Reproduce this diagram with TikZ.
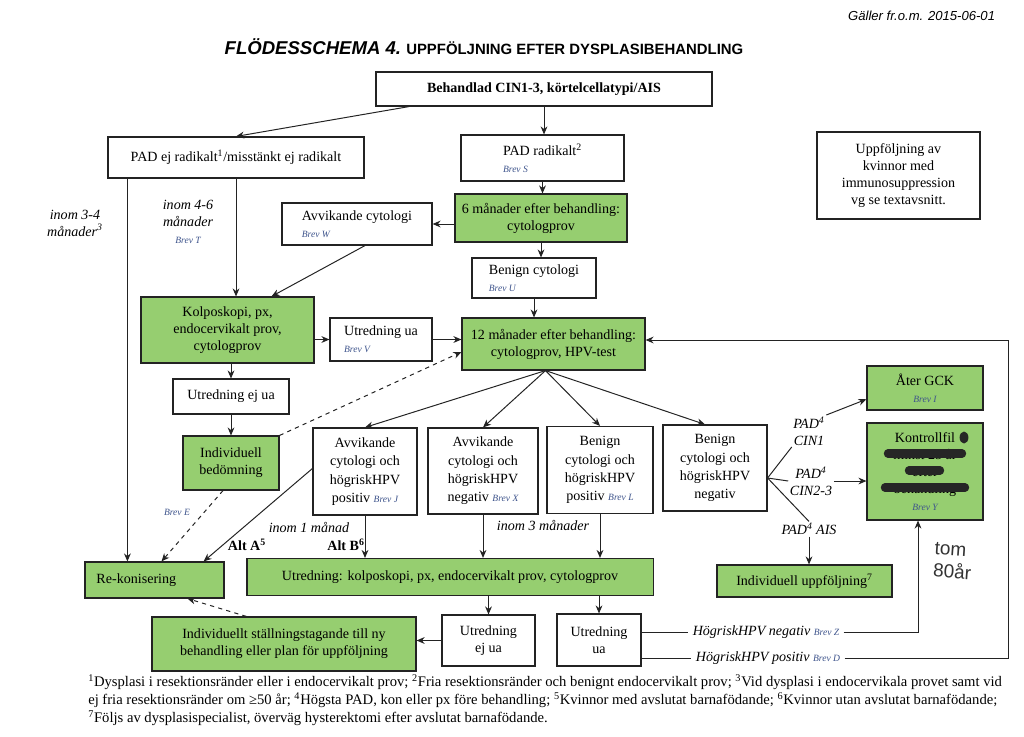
\documentclass[tikz,border=0pt]{standalone}
\usepackage{fontspec}
\setmainfont{Liberation Serif}
\newfontfamily\headfont{Liberation Sans}
\usepackage{xcolor}
\usetikzlibrary{arrows.meta,calc,positioning}
\definecolor{boxgreen}{RGB}{150,206,112}
\definecolor{brevblue}{RGB}{62,84,140}
\definecolor{edge}{RGB}{35,35,35}
\newcommand{\brev}[1]{{\fontsize{6.8}{8}\selectfont\itshape\color{brevblue}#1}}

\begin{document}
\begin{tikzpicture}[
  x=0.025cm, y=-0.025cm,
  font=\fontsize{10}{12}\selectfont,
  wbox/.style={draw=edge, line width=0.8pt, fill=white, align=center, inner sep=2pt},
  gbox/.style={wbox, fill=boxgreen},
  lbl/.style={font=\fontsize{10}{12}\selectfont\itshape, align=center, inner sep=1pt},
  arr/.style={-{Stealth[length=2mm,width=1.7mm]}, line width=0.7pt, draw=edge},
  darr/.style={arr, dashed},
  scribble/.style={line width=6pt, line cap=round, draw=black!85}
]
\useasboundingbox[fill=white] (0,0) rectangle (1024,736);

% title
\node (title) at (484,47) {\headfont\bfseries{\fontsize{13.2}{15}\selectfont\itshape FLÖDESSCHEMA 4.} {\fontsize{10.6}{12}\selectfont UPPFÖLJNING EFTER DYSPLASIBEHANDLING}};
\node[anchor=east] (date) at (1000,16) {\headfont\itshape\fontsize{9.3}{11}\selectfont Gäller fr.o.m. 2015-06-01};

% boxes
\node[wbox, minimum width=8.4cm, minimum height=0.85cm, font=\fontsize{10}{12}\selectfont\bfseries] (beh) at (544,89) {Behandlad CIN1-3, körtelcellatypi/AIS};
\node[wbox, minimum width=6.4cm, minimum height=1.025cm] (padej) at (236,157.5) {PAD ej radikalt\textsuperscript{1}/misstänkt ej radikalt};
\node[wbox, minimum width=4.075cm, minimum height=1.15cm, align=left] (padrad) at (542.5,158) {PAD radikalt\textsuperscript{2}\\\brev{Brev S}};
\node[wbox, minimum width=4.075cm, minimum height=2.175cm] (uppf) at (898.5,175.5) {Uppföljning av\\kvinnor med\\immunosuppression\\vg se textavsnitt.};
\node[gbox, minimum width=4.3cm, minimum height=1.2cm] (sexm) at (541,218) {6 månader efter behandling:\\cytologprov};
\node[wbox, minimum width=3.75cm, minimum height=1.05cm, align=left] (avvik) at (357,224) {Avvikande cytologi\\\brev{Brev W}};
\node[wbox, minimum width=3.1cm, minimum height=1cm, align=left] (benign) at (534,278) {Benign cytologi\\\brev{Brev U}};
\node[gbox, minimum width=4.325cm, minimum height=1.65cm] (kolpo) at (227.5,330) {Kolposkopi, px,\\endocervikalt prov,\\cytologprov};
\node[wbox, minimum width=2.55cm, minimum height=1.075cm, align=left] (utrua) at (381,339.5) {Utredning ua\\\brev{Brev V}};
\node[gbox, minimum width=4.575cm, minimum height=1.3cm] (tolv) at (553.5,344) {12 månader efter behandling:\\cytologprov, HPV-test};
\node[wbox, minimum width=2.9cm, minimum height=0.875cm] (utrej) at (231,396.5) {Utredning ej ua};
\node[gbox, minimum width=2.4cm, minimum height=1.35cm] (indbed) at (231,463) {Individuell\\bedömning};
\node[gbox, minimum width=3.475cm, minimum height=0.9cm, text width=2.9cm, inner xsep=0.25cm, align=left] (rekon) at (154.5,580) {Re-konisering};

\node[wbox, minimum width=2.6cm, minimum height=2.175cm, font=\fontsize{10}{13}\selectfont] (bJ) at (365,471.5) {Avvikande\\cytologi och\\högriskHPV\\positiv \brev{Brev J}};
\node[wbox, minimum width=2.75cm, minimum height=2.15cm, font=\fontsize{10}{13}\selectfont] (bX) at (483,471) {Avvikande\\cytologi och\\högriskHPV\\negativ \brev{Brev X}};
\node[wbox, minimum width=2.65cm, minimum height=2.175cm, font=\fontsize{10}{13}\selectfont] (bL) at (600,470) {Benign\\cytologi och\\högriskHPV\\positiv \brev{Brev L}};
\node[wbox, minimum width=2.6cm, minimum height=2.15cm, font=\fontsize{10}{13}\selectfont] (bN) at (715,468) {Benign\\cytologi och\\högriskHPV\\negativ};

\node[gbox, minimum width=10.15cm, minimum height=0.925cm] (utrbig) at (450,577) {Utredning: kolposkopi, px, endocervikalt prov, cytologprov};
\node[wbox, minimum width=2.325cm, minimum height=1.275cm] (utrej2) at (488.5,640.5) {Utredning\\ej ua};
\node[wbox, minimum width=2.1cm, minimum height=1.3cm] (utrua2) at (599,640) {Utredning\\ua};
\node[gbox, minimum width=6.6cm, minimum height=1.35cm] (indst) at (284,644) {Individuellt ställningstagande till ny\\behandling eller plan för uppföljning};

\node[gbox, minimum width=2.9cm, minimum height=1.1cm] (gck) at (925,388) {Åter GCK\\\brev{Brev I}};
\node[gbox, minimum width=2.9cm, minimum height=2.425cm] (kontr) at (925,471.5) {Kontrollfil\\minst 25 år\\efter\\behandling\\\brev{Brev Y}};
\node[gbox, minimum width=4.375cm, minimum height=0.8cm] (induppf) at (804.5,581) {Individuell uppföljning\textsuperscript{7}};

% scribbled-out lines
\draw[scribble] ($(kontr.center)+(-37,-18)$) -- ++(74,0);
\draw[scribble] ($(kontr.center)+(-16,-1)$) -- ++(31,0);
\draw[scribble] ($(kontr.center)+(-40,16)$) -- ++(80,0);
\fill[black!85] ($(kontr.center)+(39,-34)$) ellipse [x radius=1.1mm, y radius=1.5mm];

% labels
\node[lbl] (l34) at (75,223) {inom 3-4\\månader\textsuperscript{3}};
\node[lbl] (l46) at (188,222) {inom 4-6\\månader\\\brev{Brev T}};
\node[inner sep=1pt] (brevE) at (177,512) {\brev{Brev E}};
\node[lbl] (l1m) at (309,527) {inom 1 månad};
\node[inner sep=1pt, font=\fontsize{10}{12}\selectfont\bfseries] (altA) at (247,545) {Alt A\textsuperscript{5}};
\node[inner sep=1pt, font=\fontsize{10}{12}\selectfont\bfseries] (altB) at (346,545) {Alt B\textsuperscript{6}};
\node[lbl] (l3m) at (543,525) {inom 3 månader};
\node[lbl] (padcin1) at (809,431) {PAD\textsuperscript{4}\\CIN1};
\node[lbl] (padcin23) at (811,481) {PAD\textsuperscript{4}\\CIN2-3};
\node[lbl] (padais) at (809,529) {PAD\textsuperscript{4} AIS};
\node[lbl, inner sep=3pt] (hpvneg) at (766,632) {HögriskHPV negativ \brev{Brev Z}};
\node[lbl, inner sep=3pt] (hpvpos) at (768,658) {HögriskHPV positiv \brev{Brev D}};
\node[rotate=-4, align=left, font=\headfont\fontsize{13.5}{16}\selectfont, text=black!80] (tom) at (953,561) {tom\\80år};

% connectors
\draw[arr] ($(beh.south west)!0.1!(beh.south east)$) -- (padej.north);
\draw[arr] (beh.south) -- (beh.south |- padrad.north);
\draw[arr] (padrad.south) -- (padrad.south |- sexm.north);
\draw[arr] (avvik.east -| sexm.west) -- (avvik.east);
\draw[arr] ($(avvik.south)+(8,0)$) -- ($(kolpo.north)+(44,0)$);
\draw[arr] (sexm.south) -- (sexm.south |- benign.north);
\draw[arr] (benign.south) -- (benign.south |- tolv.north);
\coordinate (padl) at ($(padej.south west)+(20,0)$);
\draw[arr] (padl) -- (padl |- rekon.north);
\draw[arr] (padej.south) -- (padej.south |- kolpo.north);
\draw[arr] (kolpo.east |- utrua.west) -- (utrua.west);
\draw[arr] (utrua.east) -- (utrua.east -| tolv.west);
\draw[arr] (utrej.north |- kolpo.south) -- (utrej.north);
\draw[arr] (utrej.south) -- (indbed.north);
\draw[darr] (indbed.north east) -- ($(tolv.west)+(0,8)$);
\draw[darr] ($(indbed.south)+(-8,0)$) -- ($(rekon.north)+(7,0)$);

\coordinate (fan) at ($(tolv.south)+(-8,0)$);
\draw[arr] (fan) -- (bJ.north);
\draw[arr] (fan) -- (bX.north);
\draw[arr] (fan) -- (bL.north);
\draw[arr] (fan) -- ($(bN.north)+(-10,0)$);

\draw[arr] ($(bJ.west)+(0,-3)$) -- ($(rekon.north east)+(-21,0)$);
\draw[arr] (bJ.south) -- (bJ.south |- utrbig.north);
\draw[arr] (bX.south) -- (bX.south |- utrbig.north);
\draw[arr] (bL.south) -- (bL.south |- utrbig.north);
\draw[arr] (utrej2.north |- utrbig.south) -- (utrej2.north);
\draw[arr] (utrua2.north |- utrbig.south) -- (utrua2.north);
\draw[arr] (utrej2.west) -- (utrej2.west -| indst.east);
\draw[darr] ($(indst.north west)+(95,0)$) -- ($(rekon.south)+(33,0)$);

\coordinate (fanN) at ($(bN.east)+(0,10)$);
\draw[line width=0.7pt, draw=edge] (fanN) -- (padcin1.south west);
\draw[arr] (padcin1.north east) -- ($(gck.west)!0.5!(gck.south west)$);
\draw[line width=0.7pt, draw=edge] (fanN) -- (padcin23.west);
\draw[arr] (padcin23.east) -- (padcin23.east -| kontr.west);
\draw[line width=0.7pt, draw=edge] (fanN) -- (padais.north);
\draw[arr] (padais.south) -- (padais.south |- induppf.north);

\coordinate (kin) at ($(kontr.south)+(-7,0)$);
\coordinate (loop) at (1008,657);
\draw[line width=0.7pt, draw=edge] (utrua2.east |- hpvneg) -- (hpvneg.west);
\draw[arr] (hpvneg.east) -- (hpvneg.east -| kin) -- (kin);
\draw[line width=0.7pt, draw=edge] (utrua2.east |- hpvpos) -- (hpvpos.west);
\draw[arr] (hpvpos.east) -- (hpvpos.east -| loop) |- ($(tolv.east)+(0,-4)$);

% footnotes
\node[anchor=north west, align=left, inner sep=0pt, font=\fontsize{10.4}{12.8}\selectfont] (notes) at (88,674) {\textsuperscript{1}Dysplasi i resektionsränder eller i endocervikalt prov; \textsuperscript{2}Fria resektionsränder och benignt endocervikalt prov; \textsuperscript{3}Vid dysplasi i endocervikala provet samt vid\\ej fria resektionsränder om ≥50 år; \textsuperscript{4}Högsta PAD, kon eller px före behandling; \textsuperscript{5}Kvinnor med avslutat barnafödande; \textsuperscript{6}Kvinnor utan avslutat barnafödande;\\\textsuperscript{7}Följs av dysplasispecialist, överväg hysterektomi efter avslutat barnafödande.};
\end{tikzpicture}
\end{document}
